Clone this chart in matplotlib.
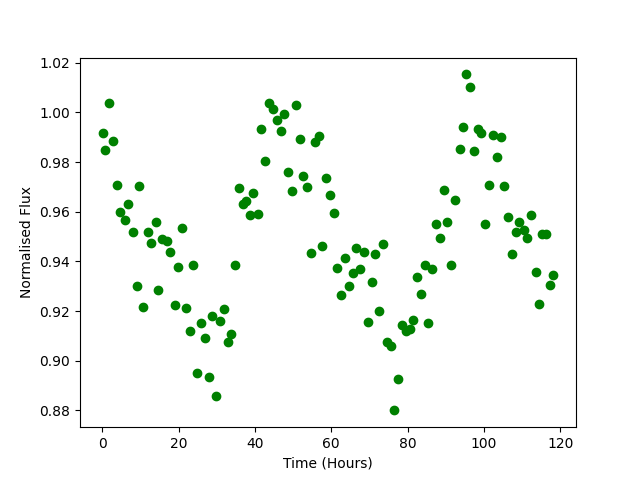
import numpy as np
import matplotlib
matplotlib.use('Agg')
import matplotlib.pyplot as plt

# Time (hours) and normalised flux
time_hours = [
    0.1, 0.8, 1.8, 2.9, 4.0, 4.7, 5.9, 6.8, 8.0, 9.0,
    9.7, 10.8, 11.9, 12.9, 14.0, 14.7, 15.8, 17.0, 17.8, 19.0,
    19.8, 20.9, 21.9, 22.9, 23.7, 24.8, 25.8, 26.9, 27.9, 28.7,
    29.7, 30.8, 31.8, 32.9, 33.7, 34.7, 35.8, 36.8, 37.7, 38.6,
    39.6, 40.8, 41.7, 42.6, 43.7, 44.7, 45.8, 46.8, 47.5, 48.6,
    49.7, 50.7, 51.8, 52.6, 53.6, 54.6, 55.7, 56.8, 57.5, 58.5,
    59.6, 60.7, 61.4, 62.6, 63.6, 64.7, 65.7, 66.5, 67.5, 68.6,
    69.6, 70.7, 71.5, 72.5, 73.6, 74.5, 75.7, 76.5, 77.6, 78.6,
    79.5, 80.6, 81.5, 82.5, 83.5, 84.6, 85.4, 86.4, 87.5, 88.5,
    89.6, 90.4, 91.3, 92.5, 93.6, 94.6, 95.4, 96.4, 97.5, 98.4,
    99.3, 100.3, 101.4, 102.4, 103.5, 104.4, 105.3, 106.4, 107.4, 108.4,
    109.3, 110.4, 111.4, 112.4, 113.5, 114.3, 115.2, 116.3, 117.4, 118.2,
]
flux = [
    0.9916, 0.9847, 1.0039, 0.9883, 0.9709, 0.9600, 0.9565, 0.9633, 0.9520, 0.9300,
    0.9702, 0.9217, 0.9517, 0.9473, 0.9560, 0.9285, 0.9490, 0.9484, 0.9439, 0.9223,
    0.9376, 0.9533, 0.9212, 0.9120, 0.9384, 0.8952, 0.9150, 0.9092, 0.8934, 0.9180,
    0.8858, 0.9161, 0.9208, 0.9075, 0.9108, 0.9384, 0.9697, 0.9630, 0.9644, 0.9587,
    0.9676, 0.9589, 0.9932, 0.9803, 1.0037, 1.0015, 0.9971, 0.9924, 0.9995, 0.9758,
    0.9685, 1.0028, 0.9894, 0.9743, 0.9701, 0.9434, 0.9882, 0.9904, 0.9460, 0.9734,
    0.9669, 0.9596, 0.9372, 0.9264, 0.9412, 0.9300, 0.9352, 0.9452, 0.9370, 0.9438,
    0.9155, 0.9317, 0.9430, 0.9199, 0.9470, 0.9076, 0.9060, 0.8800, 0.8926, 0.9144,
    0.9120, 0.9127, 0.9164, 0.9336, 0.9267, 0.9385, 0.9150, 0.9368, 0.9550, 0.9493,
    0.9687, 0.9557, 0.9385, 0.9646, 0.9854, 0.9943, 1.0153, 1.0104, 0.9843, 0.9933,
    0.9918, 0.9550, 0.9706, 0.9908, 0.9822, 0.9902, 0.9703, 0.9577, 0.9430, 0.9517,
    0.9557, 0.9525, 0.9493, 0.9587, 0.9357, 0.9227, 0.9510, 0.9510, 0.9306, 0.9346,
]

fig, ax = plt.subplots(figsize=(6.4, 4.8), dpi=100)
ax.plot(time_hours, flux, 'o', color='green')

ax.set_xlabel('Time (Hours)')
ax.set_ylabel('Normalised Flux')

plt.savefig('out.png')
